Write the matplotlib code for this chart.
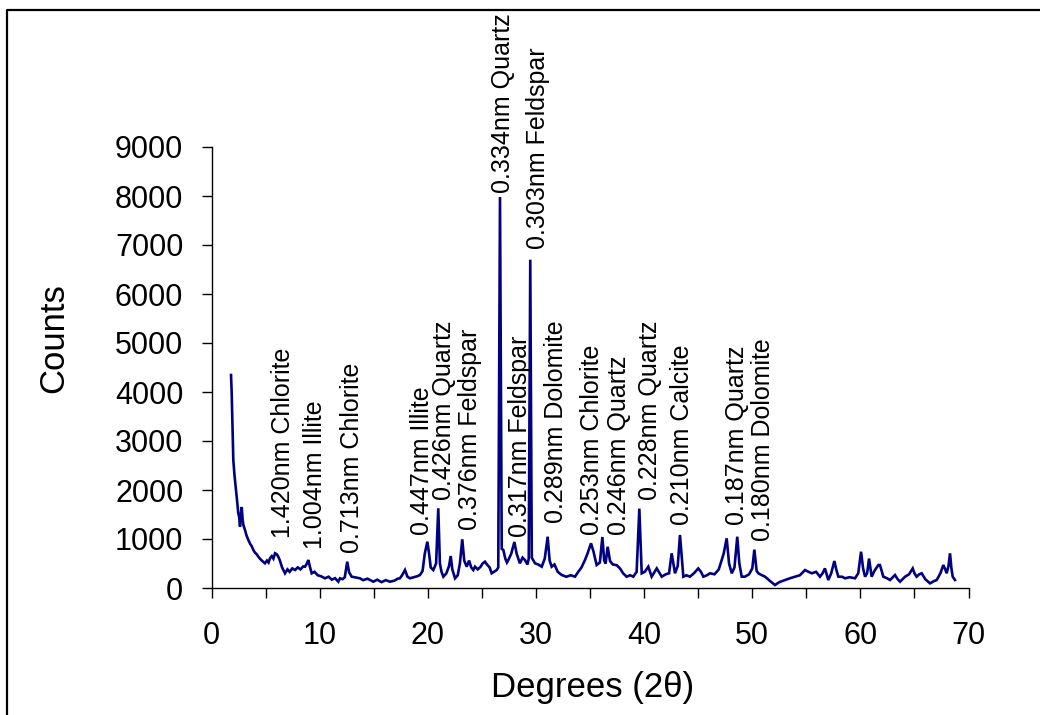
import matplotlib
matplotlib.use("Agg")
import matplotlib.pyplot as plt
from matplotlib.lines import Line2D
from matplotlib.ticker import MultipleLocator

plt.rcParams['font.family'] = ['Liberation Sans', 'DejaVu Sans']

# ---- data ----
two_theta = [1.78, 1.84, 1.92, 1.99, 2.10, 2.21, 2.33, 2.45, 2.53, 2.61, 2.68, 2.77, 2.85, 2.92,
             3.05, 3.20, 3.38, 3.55, 3.70, 3.84, 4.00, 4.15, 4.30, 4.45, 4.62, 4.78, 4.92, 5.10,
             5.25, 5.38, 5.55, 5.70, 5.85, 6.00, 6.15, 6.30, 6.50, 6.77, 7.00, 7.20, 7.45, 7.70,
             7.95, 8.20, 8.45, 8.62, 8.80, 8.93, 9.08, 9.24, 9.50, 9.80, 10.10, 10.47, 10.80,
             11.10, 11.40, 11.70, 11.86, 12.10, 12.30, 12.53, 12.70, 12.94,
             13.2, 13.7, 14.0, 14.4, 14.94, 15.3, 15.7, 16.1, 16.48, 16.9, 17.2, 17.4, 17.6,
             17.87, 18.1, 18.33, 18.7, 19.0, 19.26, 19.5, 19.7, 19.94, 20.1, 20.25, 20.49, 20.75,
             20.95, 21.1, 21.25, 21.42, 21.7, 21.95, 22.1, 22.25, 22.5, 22.75, 22.95, 23.17,
             23.35, 23.58, 23.8, 24.0, 24.19, 24.35, 24.6, 24.85, 25.05, 25.27, 25.45, 25.7,
             25.89, 26.1, 26.36, 26.5, 26.66, 26.82, 26.97, 27.15, 27.3, 27.43, 27.7, 27.99,
             28.2, 28.5, 28.75, 28.97, 29.2, 29.32, 29.46, 29.6, 29.9, 30.2, 30.52, 30.8, 31.07,
             31.25, 31.44, 31.7, 32.0, 32.37, 32.8, 33.2, 33.6, 33.9, 34.2, 34.52, 34.75, 35.08,
             35.3, 35.6, 35.9, 36.13, 36.3, 36.43, 36.62, 36.84, 37.1, 37.46, 37.76, 38.05,
             38.38, 38.7, 38.99, 39.3, 39.55, 39.77, 40.05, 40.38, 40.69, 41.16, 41.62, 42.0,
             42.3, 42.54, 42.85, 43.1, 43.31, 43.62, 43.9, 44.23, 44.6, 45.0, 45.25, 45.47,
             45.8, 46.09, 46.5, 46.9, 47.17, 47.35, 47.63, 47.85, 48.1, 48.35, 48.61, 48.8,
             49.02, 49.32, 49.7, 50.0, 50.19, 50.4, 50.56, 50.9, 51.18, 51.6, 52.1, 52.5, 53.03,
             53.5, 53.95, 54.4, 54.88, 55.2, 55.5, 55.9, 56.26, 56.5, 56.72, 57.03, 57.3, 57.59,
             57.8, 57.96, 58.3, 58.58, 59.0, 59.5, 59.8, 60.06, 60.25, 60.43, 60.62, 60.8,
             61.04, 61.3, 61.66, 61.81, 62.12, 62.45, 62.74, 63.0, 63.2, 63.45, 63.67, 63.9,
             64.13, 64.5, 64.84, 65.0, 65.2, 65.45, 65.67, 66.0, 66.44, 66.8, 67.06, 67.4,
             67.67, 67.85, 67.98, 68.15, 68.29, 68.42, 68.54, 68.75]
counts = [4347, 3974, 3200, 2612, 2300, 2068, 1800, 1525, 1450, 1253, 1500, 1653, 1400, 1286,
          1200, 1080, 980, 900, 850, 776, 720, 690, 640, 600, 560, 530, 504, 560,
          520, 606, 650, 600, 708, 690, 640, 560, 420, 300, 380, 330, 400, 367,
          420, 380, 440, 435, 500, 571, 430, 300, 330, 260, 240, 198, 230,
          170, 200, 129, 198, 180, 220, 537, 320, 231,
          220, 198, 160, 190, 129, 170, 120, 160, 129, 150, 190, 198, 260,
          367, 230, 198, 220, 240, 265, 350, 700, 945, 700, 420, 367, 500,
          1627, 500, 330, 231, 300, 450, 653, 380, 198, 260, 500, 994,
          560, 435, 560, 420, 367, 435, 380, 430, 500, 537, 480, 420,
          300, 330, 367, 420, 7980, 800, 776, 600, 520, 571, 700, 939,
          700, 504, 620, 571, 480, 600, 6700, 620, 504, 480, 435, 600, 1047,
          560, 435, 480, 330, 265, 230, 260, 231, 330, 420, 571, 700, 912,
          750, 469, 520, 1041, 560, 498, 842, 550, 480, 465, 400, 300,
          231, 260, 231, 330, 1620, 300, 330, 435, 231, 400, 231, 280,
          300, 708, 300, 450, 1082, 231, 260, 231, 300, 400, 330, 231,
          260, 300, 280, 380, 571, 700, 1014, 500, 300, 420, 1047, 500,
          231, 231, 280, 400, 784, 350, 300, 260, 231, 150, 61, 120, 163,
          200, 231, 260, 367, 330, 300, 330, 231, 300, 400, 163, 300, 551,
          350, 231, 230, 198, 220, 198, 300, 741, 400, 231, 300, 600,
          231, 350, 469, 469, 231, 200, 163, 220, 265, 180, 129, 180,
          231, 280, 400, 300, 231, 280, 300, 180, 95, 140, 163, 300,
          469, 380, 300, 450, 708, 400, 231, 163]

peak_labels = ["1.420nm Chlorite", "1.004nm Illite", "0.713nm Chlorite", "0.447nm Illite",
               "0.426nm Quartz", "0.376nm Feldspar", "0.334nm Quartz", "0.317nm Feldspar",
               "0.303nm Feldspar", "0.289nm Dolomite", "0.253nm Chlorite", "0.246nm Quartz",
               "0.228nm Quartz", "0.210nm Calcite", "0.187nm Quartz", "0.180nm Dolomite"]
label_x = [6.61, 9.55, 12.94, 19.40, 21.50, 23.86, 26.91, 28.51,
           30.20, 31.84, 35.14, 37.70, 40.54, 43.47, 48.55, 51.02]
label_y = [1020, 796, 714, 1082, 1796, 1184, 8070, 1041,
           6919, 1326, 1082, 1082, 1796, 1286, 1286, 959]

x_ticks = [0, 10, 20, 30, 40, 50, 60, 70]
y_ticks = [0, 1000, 2000, 3000, 4000, 5000, 6000, 7000, 8000, 9000]

# ---- figure ----
W, H = 1040, 715
fig = plt.figure(figsize=(W / 100, H / 100), dpi=100)
ax = fig.add_axes([211.8 / W, (H - 588) / H, (968.5 - 211.8) / W, (588 - 147) / H])

ax.plot(two_theta, counts, color='#000080', lw=1.9, solid_joinstyle='miter')

ax.set_xlim(0, 70)
ax.set_ylim(0, 9000)
ax.set_xticks(x_ticks)
ax.xaxis.set_minor_locator(MultipleLocator(5))
ax.set_yticks(y_ticks)

for s in ['top', 'right']:
    ax.spines[s].set_visible(False)
for s in ['left', 'bottom']:
    ax.spines[s].set_linewidth(1.0)

ax.tick_params(axis='both', which='both', direction='out', length=7.5, width=1.0,
               colors='black', labelsize=22)
ax.tick_params(axis='x', which='both', pad=16)
ax.tick_params(axis='y', which='both', pad=13)

for lab, xv, yv in zip(peak_labels, label_x, label_y):
    ax.text(xv, yv, lab, rotation=90, ha='center', va='bottom', fontsize=18,
            color='black')

fig.text(593 / W, 1 - 688 / H, "Degrees (2θ)", ha='center', va='center', fontsize=25)
fig.text(54 / W, 1 - 338 / H, "Counts", ha='center', va='center', rotation=90, fontsize=25)

# chart-area border (top and left visible, rest cut off)
fig.add_artist(Line2D([7 / W, 7 / W, 1.01], [-0.01, 1 - 10 / H, 1 - 10 / H],
                      transform=fig.transFigure, color='black', lw=1.6))

fig.savefig("out.png", dpi=100)
